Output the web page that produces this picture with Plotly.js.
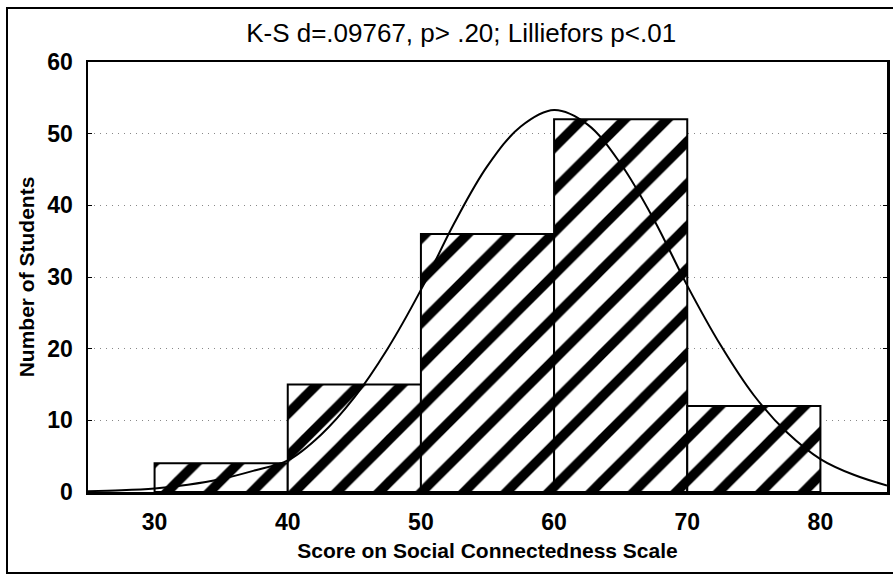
<!DOCTYPE html>
<html>
<head>
<meta charset="utf-8">
<script src="https://cdn.plot.ly/plotly-3.0.1.min.js"></script>
<style>
  html, body { margin: 0; padding: 0; background: #fff; }
  #frame { position: absolute; left: 6px; top: 7px; width: 900px; height: 563px;
           border-left: 2px solid #000; border-top: 2px solid #000; border-bottom: 2px solid #000; }
  #chart { position: absolute; left: 0; top: 0; width: 893px; height: 574px; }
</style>
</head>
<body>
<div id="frame"></div>
<div id="chart"></div>
<script>
// Histogram bins (centers, width 10) and counts
const binCenters = [35, 45, 55, 65, 75];
const counts = [4, 15, 36, 52, 12];

// Fitted normal curve
const curveX = [25, 27.5, 30, 32.5, 35, 37.5, 40, 42.5, 45, 47.5, 50, 52.5, 55, 57.5, 60, 62.5, 65, 67.5, 70, 72.5, 75, 77.5, 80, 82.5, 85];
const curveY = [0.12, 0.25, 0.5, 1.0, 1.8, 3.0, 4.4, 8.0, 13.2, 20.0, 28.2, 37.5, 45.5, 51.0, 53.3, 51.3, 45.8, 38.0, 28.8, 20.5, 13.5, 8.3, 4.6, 2.4, 0.9];

const xTicks = [30, 40, 50, 60, 70, 80];
const yTicks = [0, 10, 20, 30, 40, 50, 60];

const titleText = 'K-S d=.09767, p> .20; Lilliefors p<.01';
const xTitle = 'Score on Social Connectedness Scale';
const yTitle = 'Number of Students';

const FONT = 'Arial, "Liberation Sans", sans-serif';

const traces = [
  {
    type: 'bar',
    x: binCenters,
    y: counts,
    width: 10,
    marker: {
      color: '#ffffff',
      line: { color: '#000', width: 2 },
      pattern: { shape: '/', fgcolor: '#000', bgcolor: '#fff', size: 30, solidity: 0.32, fillmode: 'replace' }
    },
    hoverinfo: 'skip',
    showlegend: false
  },
  {
    type: 'scatter',
    mode: 'lines',
    x: curveX,
    y: curveY,
    line: { color: '#000', width: 2, shape: 'spline', smoothing: 1 },
    hoverinfo: 'skip',
    showlegend: false
  }
];

const layout = {
  width: 893,
  height: 574,
  margin: { l: 88, r: 6, t: 62, b: 82 },
  paper_bgcolor: 'rgba(0,0,0,0)',
  plot_bgcolor: '#fff',
  bargap: 0,
  font: { family: FONT, color: '#000' },
  title: {
    text: titleText,
    font: { size: 26, color: '#000', family: FONT },
    xref: 'paper', x: 0.467, xanchor: 'center',
    yref: 'container', y: 0.942, yanchor: 'middle'
  },
  xaxis: {
    range: [25, 85],
    tickvals: xTicks,
    ticktext: xTicks.map(String),
    tickfont: { size: 23, family: FONT, weight: 'bold' },
    showgrid: false,
    zeroline: false,
    showline: true, linecolor: '#000', linewidth: 2.5, mirror: true,
    ticks: '',
    ticklabelstandoff: 8,
    title: { text: xTitle, font: { size: 21, weight: 'bold' }, standoff: 9 }
  },
  yaxis: {
    range: [0, 60],
    tickvals: yTicks,
    ticktext: yTicks.map(String),
    tickfont: { size: 23, family: FONT, weight: 'bold' },
    showgrid: true, gridcolor: '#888', griddash: '1px,5px', gridwidth: 1,
    zeroline: false,
    showline: true, linecolor: '#000', linewidth: 2.5, mirror: 'ticks',
    ticks: 'inside', ticklen: 4, tickcolor: '#000',
    ticklabelstandoff: 8,
    title: { text: yTitle, font: { size: 21, weight: 'bold' }, standoff: 7 }
  }
};

Plotly.newPlot('chart', traces, layout, { displayModeBar: false, staticPlot: true });
</script>
</body>
</html>
